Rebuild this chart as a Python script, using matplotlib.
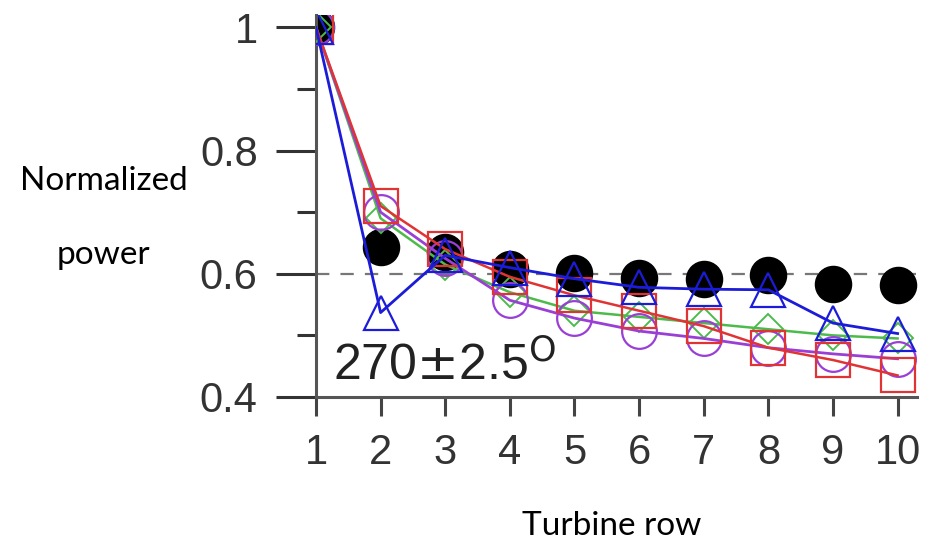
import numpy as np
import matplotlib
matplotlib.use("Agg")
import matplotlib.pyplot as plt
from matplotlib.ticker import MultipleLocator

# normalized power by turbine row, 270 +/- 2.5 deg inflow
rows = [1, 2, 3, 4, 5, 6, 7, 8, 9, 10]
measured = [1.0, 0.643, 0.635, 0.607, 0.602, 0.593, 0.592, 0.598, 0.583, 0.582]
model_tri = [1.0, 0.537, 0.630, 0.610, 0.592, 0.578, 0.575, 0.574, 0.520, 0.503]
model_sq = [1.0, 0.710, 0.640, 0.595, 0.565, 0.540, 0.515, 0.480, 0.460, 0.435]
model_dia = [1.0, 0.690, 0.615, 0.570, 0.540, 0.530, 0.520, 0.510, 0.500, 0.495]
model_circ = [1.0, 0.700, 0.625, 0.557, 0.528, 0.507, 0.495, 0.480, 0.470, 0.462]

ytick_vals = [0.4, 0.6, 0.8, 1.0]
ytick_labels = ["0.4", "0.6", "0.8", "1"]
case_label = r"270$\pm$2.5$^{\mathrm{O}}$"

plt.rcParams["font.family"] = ["Liberation Sans", "DejaVu Sans"]

fig = plt.figure(figsize=(9.34, 5.41), dpi=100)
ax = fig.add_axes([0.3383, 0.2662, 0.6435, 0.706])

ax.axhline(0.6, color="#777777", lw=1.6, ls=(0, (6, 5)), zorder=1)

ax.plot(rows, measured, "o", color="black", ms=26, zorder=2)
ax.plot(rows, model_dia, "-D", color="#4cbb4c", mfc="none", mew=1.4, ms=15, lw=1.8, zorder=3)
ax.plot(rows, model_circ, "-o", color="#9a3fd6", mfc="none", mew=1.6, ms=25, lw=2.0, zorder=4)
ax.plot(rows, model_sq, "-s", color="#e03434", mfc="none", mew=1.6, ms=25, lw=1.8, zorder=5)
ax.plot(rows, model_tri, "-^", color="#1c1cd8", mfc="none", mew=1.6, ms=25, lw=2.0, zorder=6)

ax.text(1.26, 0.428, case_label, fontsize=36, color="#222222")

ax.set_xlim(1, 10.3)
ax.set_ylim(0.4, 1.02)
ax.set_xticks(rows)
ax.set_xticklabels([str(r) for r in rows])
ax.set_yticks(ytick_vals)
ax.set_yticklabels(ytick_labels)
ax.yaxis.set_minor_locator(MultipleLocator(0.1))

for s in ["top", "right"]:
    ax.spines[s].set_visible(False)
for s in ["left", "bottom"]:
    ax.spines[s].set_linewidth(2.2)
    ax.spines[s].set_color("#555555")

ax.tick_params(axis="y", which="major", length=29, width=2.2, color="#333333",
               labelsize=30, pad=13, labelcolor="#333333")
ax.tick_params(axis="y", which="minor", length=14, width=2.2, color="#333333")
ax.tick_params(axis="x", which="major", length=14, width=2.2, color="#444444",
               labelsize=30, pad=12, labelcolor="#333333")
for lab in ax.get_xticklabels() + ax.get_yticklabels():
    lab.set_fontfamily(["Liberation Sans", "DejaVu Sans"])

fig.text(0.111, 0.597, "Normalized\n\npower", fontsize=24, family="Lato",
         ha="center", va="center", linespacing=1.3)
fig.text(0.655, 0.028, "Turbine row", fontsize=24, family="Lato",
         ha="center", va="center")

fig.savefig("out.png", dpi=100)
